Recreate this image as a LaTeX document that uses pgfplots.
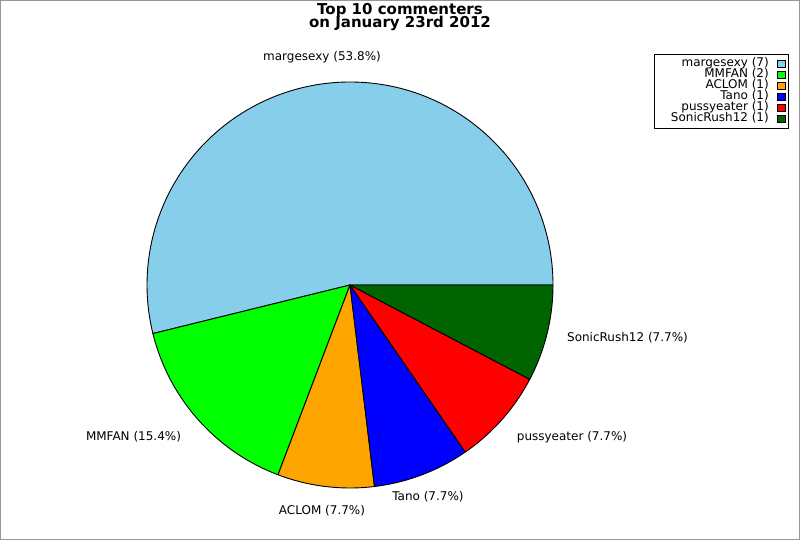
\documentclass[border=0pt]{standalone}
\usepackage{pgfplots}
\pgfplotsset{compat=1.18}
\usepackage{fontspec}
\setmainfont{DejaVu Sans}
\definecolor{cA}{HTML}{87CEEB}
\definecolor{cB}{HTML}{00FF00}
\definecolor{cC}{HTML}{FFA500}
\definecolor{cD}{HTML}{0000FF}
\definecolor{cE}{HTML}{FF0000}
\definecolor{cF}{HTML}{006400}
\definecolor{frame}{RGB}{150,150,150}
% counts per commenter
\def\nA{7}\def\nB{2}\def\nC{1}\def\nD{1}\def\nE{1}\def\nF{1}
\pgfmathsetmacro{\tot}{\nA+\nB+\nC+\nD+\nE+\nF}
\pgfmathsetmacro{\eA}{360*\nA/\tot}
\pgfmathsetmacro{\eB}{\eA+360*\nB/\tot}
\pgfmathsetmacro{\eC}{\eB+360*\nC/\tot}
\pgfmathsetmacro{\eD}{\eC+360*\nD/\tot}
\pgfmathsetmacro{\eE}{\eD+360*\nE/\tot}
\pgfmathsetmacro{\eF}{\eE+360*\nF/\tot}
\newcommand{\slice}[3]{%
  \filldraw[fill=#3,draw=black,line width=0.9pt,line join=round]
    (axis cs:350,255) -- ++(#1:203pt) arc[start angle=#1,end angle=#2,radius=203pt] -- cycle;}
\begin{document}
\begin{tikzpicture}
\begin{axis}[x=1pt,y=1pt,xmin=0,xmax=800,ymin=0,ymax=540,hide axis,
  xtick=\empty,ytick=\empty,
  anchor=origin,at={(0pt,0pt)},clip=false]
\slice{0}{\eA}{cA}
\slice{\eA}{\eB}{cB}
\slice{\eB}{\eC}{cC}
\slice{\eC}{\eD}{cD}
\slice{\eD}{\eE}{cE}
\slice{\eE}{\eF}{cF}
% title
\node[anchor=base,font=\fontsize{15}{13}\selectfont\bfseries,inner sep=0pt] at (axis cs:400,525.5) {Top 10 commenters};
\node[anchor=base,font=\fontsize{15}{13}\selectfont\bfseries,inner sep=0pt] at (axis cs:400,512) {on January 23rd 2012};
% slice labels
\tikzset{lab/.style={anchor=center,inner sep=0pt,font=\fontsize{12}{14}\selectfont}}
\node[lab] at (axis cs:322,483) {margesexy (53.8\%)};
\node[lab] at (axis cs:133.5,103) {MMFAN (15.4\%)};
\node[lab] at (axis cs:322,29) {ACLOM (7.7\%)};
\node[lab] at (axis cs:428,43) {Tano (7.7\%)};
\node[lab] at (axis cs:572,103) {pussyeater (7.7\%)};
\node[lab] at (axis cs:627.5,202) {SonicRush12 (7.7\%)};
% legend
\draw[black,line width=0.9pt,fill=white] (axis cs:654.5,486) rectangle (axis cs:788,411.5);
\tikzset{leg/.style={anchor=base east,inner sep=0pt,font=\fontsize{12}{14}\selectfont}}
\node[leg] at (axis cs:769,473) {margesexy (7)};
\node[leg] at (axis cs:769,462) {MMFAN (2)};
\node[leg] at (axis cs:769,451) {ACLOM (1)};
\node[leg] at (axis cs:769,440) {Tano (1)};
\node[leg] at (axis cs:769,429) {pussyeater (1)};
\node[leg] at (axis cs:769,418) {SonicRush12 (1)};
\filldraw[fill=cA,draw=black,line width=0.8pt] (axis cs:777.5,480) rectangle (axis cs:785,472.5);
\filldraw[fill=cB,draw=black,line width=0.8pt] (axis cs:777.5,469) rectangle (axis cs:785,461.5);
\filldraw[fill=cC,draw=black,line width=0.8pt] (axis cs:777.5,458) rectangle (axis cs:785,450.5);
\filldraw[fill=cD,draw=black,line width=0.8pt] (axis cs:777.5,447) rectangle (axis cs:785,439.5);
\filldraw[fill=cE,draw=black,line width=0.8pt] (axis cs:777.5,436) rectangle (axis cs:785,428.5);
\filldraw[fill=cF,draw=black,line width=0.8pt] (axis cs:777.5,425) rectangle (axis cs:785,417.5);
\draw[frame,line width=1pt] (axis cs:0.5,0.5) rectangle (axis cs:799.5,539.5);
\end{axis}
\end{tikzpicture}
\end{document}
